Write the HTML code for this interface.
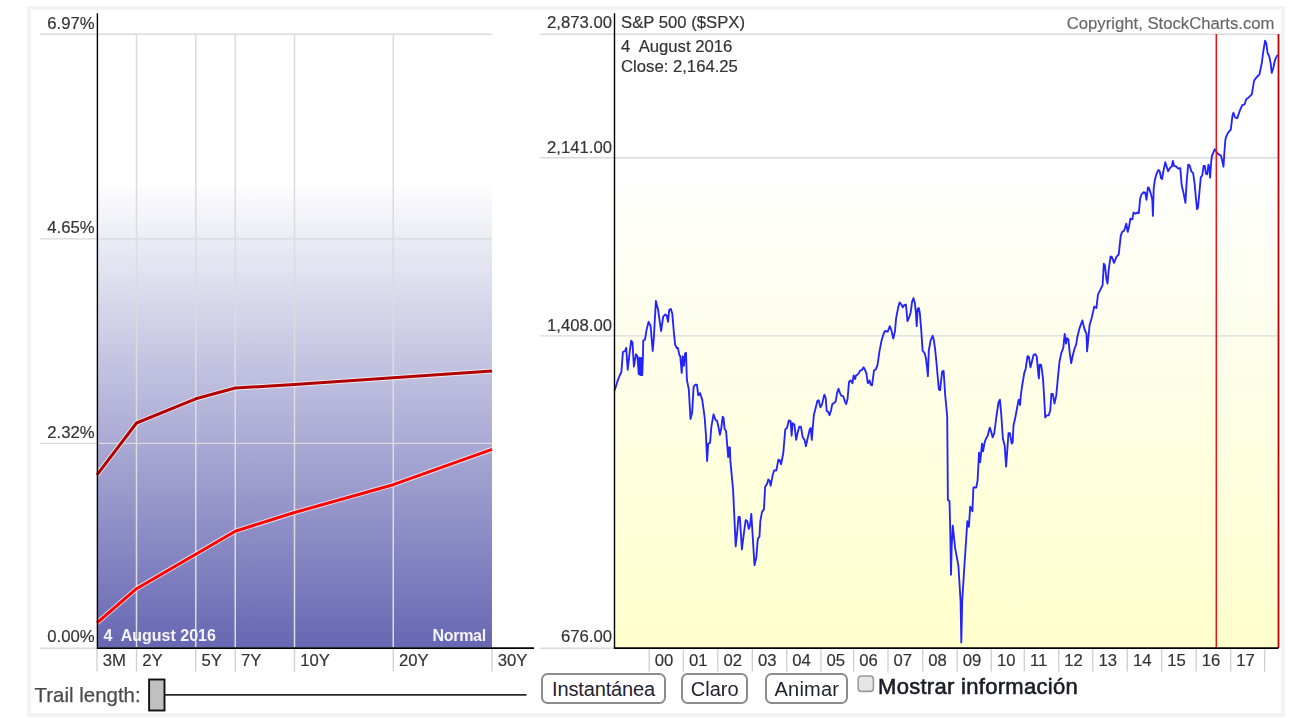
<!DOCTYPE html>
<html><head><meta charset="utf-8"><title>Yield Curve</title>
<style>
html,body{margin:0;padding:0;background:#fff;width:1306px;height:718px;overflow:hidden;}
svg{position:absolute;left:0;top:0;will-change:transform;}
text{font-family:"Liberation Sans", sans-serif;}
.t{fill:#333;stroke:#333;stroke-width:0.18px;}
.btn{position:absolute;box-sizing:border-box;border:2px solid #8c8c8c;border-radius:6.5px;background:#fff;
 font-family:"Liberation Sans", sans-serif;font-size:20px;color:#23232f;text-align:center;line-height:28px;height:31px;top:672.5px;white-space:nowrap;}
.lbl{position:absolute;font-family:"Liberation Sans", sans-serif;white-space:nowrap;}
</style></head><body>
<svg width="1306" height="718" viewBox="0 0 1306 718">
<defs>
<linearGradient id="gp" x1="0" y1="0" x2="0" y2="1">
 <stop offset="0" stop-color="#fdfdfe"/>
 <stop offset="1" stop-color="#6767b3"/>
</linearGradient>
<linearGradient id="gy" x1="0" y1="0" x2="0" y2="1">
 <stop offset="0" stop-color="#fefefc"/>
 <stop offset="1" stop-color="#ffffcc"/>
</linearGradient>
</defs>
<rect x="29" y="8" width="1254" height="707" fill="none" stroke="#f3f3f3" stroke-width="4"/>

<rect x="97" y="186" width="395" height="461.5" fill="url(#gp)"/>
<line x1="40" y1="34.2" x2="492" y2="34.2" stroke="#dadada" stroke-width="1.4"/>
<line x1="40" y1="238.9" x2="492" y2="238.9" stroke="#dadada" stroke-width="1.4"/>
<line x1="40" y1="443.4" x2="492" y2="443.4" stroke="#dadada" stroke-width="1.4"/>
<line x1="40" y1="648.2" x2="97" y2="648.2" stroke="#dadada" stroke-width="1.4"/>
<line x1="136.5" y1="34" x2="136.5" y2="647.5" stroke="#dcdcdc" stroke-width="1.5"/>
<line x1="195.75" y1="34" x2="195.75" y2="647.5" stroke="#dcdcdc" stroke-width="1.5"/>
<line x1="235.25" y1="34" x2="235.25" y2="647.5" stroke="#dcdcdc" stroke-width="1.5"/>
<line x1="294.5" y1="34" x2="294.5" y2="647.5" stroke="#dcdcdc" stroke-width="1.5"/>
<line x1="393.25" y1="34" x2="393.25" y2="647.5" stroke="#dcdcdc" stroke-width="1.5"/>
<line x1="97" y1="648.5" x2="97" y2="671.6" stroke="#cfcfcf" stroke-width="1.3"/>
<line x1="136.5" y1="648.5" x2="136.5" y2="671.6" stroke="#cfcfcf" stroke-width="1.3"/>
<line x1="195.75" y1="648.5" x2="195.75" y2="671.6" stroke="#cfcfcf" stroke-width="1.3"/>
<line x1="235.25" y1="648.5" x2="235.25" y2="671.6" stroke="#cfcfcf" stroke-width="1.3"/>
<line x1="294.5" y1="648.5" x2="294.5" y2="671.6" stroke="#cfcfcf" stroke-width="1.3"/>
<line x1="393.25" y1="648.5" x2="393.25" y2="671.6" stroke="#cfcfcf" stroke-width="1.3"/>
<line x1="492" y1="648.5" x2="492" y2="671.6" stroke="#cfcfcf" stroke-width="1.3"/>
<polyline points="97,474.8 136.5,423.0 195.75,398.8 235.25,388.0 294.5,384.5 393.25,377.8 492,371.0" fill="none" stroke="#ffffff" stroke-opacity="0.7" stroke-width="5" stroke-linejoin="round"/>
<polyline points="97,474.8 136.5,423.0 195.75,398.8 235.25,388.0 294.5,384.5 393.25,377.8 492,371.0" fill="none" stroke="#b20000" stroke-width="3" stroke-linejoin="round"/>
<polyline points="97,622.9 136.5,588.7 195.75,554.2 235.25,531.2 294.5,512.5 393.25,484.7 492,449.3" fill="none" stroke="#ffffff" stroke-opacity="0.7" stroke-width="5" stroke-linejoin="round"/>
<polyline points="97,622.9 136.5,588.7 195.75,554.2 235.25,531.2 294.5,512.5 393.25,484.7 492,449.3" fill="none" stroke="#ff0000" stroke-width="3" stroke-linejoin="round"/>
<line x1="97.4" y1="13.3" x2="97.4" y2="648.7" stroke="#000" stroke-width="1.4"/>
<line x1="97" y1="648.1" x2="534" y2="648.1" stroke="#000" stroke-width="1.7"/>
<text x="94.6" y="28.6" text-anchor="end" font-size="16.7" class="t">6.97%</text>
<text x="94.6" y="233.1" text-anchor="end" font-size="16.7" class="t">4.65%</text>
<text x="94.6" y="437.6" text-anchor="end" font-size="16.7" class="t">2.32%</text>
<text x="94.6" y="642.2" text-anchor="end" font-size="16.7" class="t">0.00%</text>
<text x="102.8" y="665.6" font-size="16.7" class="t">3M</text>
<text x="142.3" y="665.6" font-size="16.7" class="t">2Y</text>
<text x="201.55" y="665.6" font-size="16.7" class="t">5Y</text>
<text x="241.05" y="665.6" font-size="16.7" class="t">7Y</text>
<text x="300.3" y="665.6" font-size="16.7" class="t">10Y</text>
<text x="399.05" y="665.6" font-size="16.7" class="t">20Y</text>
<text x="497.8" y="665.6" font-size="16.7" class="t">30Y</text>
<text x="103.5" y="641" font-size="16" font-weight="bold" fill="#f4f4fa" xml:space="preserve">4  August 2016</text>
<text x="432.4" y="641" font-size="16" font-weight="bold" fill="#f4f4fa" textLength="53.8" lengthAdjust="spacing">Normal</text>
<rect x="614" y="186" width="664.5" height="461.5" fill="url(#gy)"/>
<line x1="540" y1="34.2" x2="1278.5" y2="34.2" stroke="#dadada" stroke-width="1.4"/>
<line x1="540" y1="157.7" x2="1278.5" y2="157.7" stroke="#dadada" stroke-width="1.4"/>
<line x1="540" y1="335.9" x2="1278.5" y2="335.9" stroke="#dadada" stroke-width="1.4"/>
<line x1="540" y1="648.2" x2="614" y2="648.2" stroke="#dadada" stroke-width="1.4"/>
<line x1="649.2" y1="648.5" x2="649.2" y2="671.6" stroke="#cfcfcf" stroke-width="1.3"/>
<text x="654.80" y="665.6" font-size="16.7" class="t">00</text>
<line x1="683.3" y1="648.5" x2="683.3" y2="671.6" stroke="#cfcfcf" stroke-width="1.3"/>
<text x="688.90" y="665.6" font-size="16.7" class="t">01</text>
<line x1="717.8" y1="648.5" x2="717.8" y2="671.6" stroke="#cfcfcf" stroke-width="1.3"/>
<text x="723.40" y="665.6" font-size="16.7" class="t">02</text>
<line x1="752.3" y1="648.5" x2="752.3" y2="671.6" stroke="#cfcfcf" stroke-width="1.3"/>
<text x="757.90" y="665.6" font-size="16.7" class="t">03</text>
<line x1="786.7" y1="648.5" x2="786.7" y2="671.6" stroke="#cfcfcf" stroke-width="1.3"/>
<text x="792.30" y="665.6" font-size="16.7" class="t">04</text>
<line x1="820.9" y1="648.5" x2="820.9" y2="671.6" stroke="#cfcfcf" stroke-width="1.3"/>
<text x="826.50" y="665.6" font-size="16.7" class="t">05</text>
<line x1="853.6" y1="648.5" x2="853.6" y2="671.6" stroke="#cfcfcf" stroke-width="1.3"/>
<text x="859.20" y="665.6" font-size="16.7" class="t">06</text>
<line x1="888.0" y1="648.5" x2="888.0" y2="671.6" stroke="#cfcfcf" stroke-width="1.3"/>
<text x="893.60" y="665.6" font-size="16.7" class="t">07</text>
<line x1="922.7" y1="648.5" x2="922.7" y2="671.6" stroke="#cfcfcf" stroke-width="1.3"/>
<text x="928.30" y="665.6" font-size="16.7" class="t">08</text>
<line x1="957.2" y1="648.5" x2="957.2" y2="671.6" stroke="#cfcfcf" stroke-width="1.3"/>
<text x="962.80" y="665.6" font-size="16.7" class="t">09</text>
<line x1="991.3" y1="648.5" x2="991.3" y2="671.6" stroke="#cfcfcf" stroke-width="1.3"/>
<text x="996.90" y="665.6" font-size="16.7" class="t">10</text>
<line x1="1024.3" y1="648.5" x2="1024.3" y2="671.6" stroke="#cfcfcf" stroke-width="1.3"/>
<text x="1029.90" y="665.6" font-size="16.7" class="t">11</text>
<line x1="1058.7" y1="648.5" x2="1058.7" y2="671.6" stroke="#cfcfcf" stroke-width="1.3"/>
<text x="1064.30" y="665.6" font-size="16.7" class="t">12</text>
<line x1="1092.8" y1="648.5" x2="1092.8" y2="671.6" stroke="#cfcfcf" stroke-width="1.3"/>
<text x="1098.40" y="665.6" font-size="16.7" class="t">13</text>
<line x1="1127.3" y1="648.5" x2="1127.3" y2="671.6" stroke="#cfcfcf" stroke-width="1.3"/>
<text x="1132.90" y="665.6" font-size="16.7" class="t">14</text>
<line x1="1161.7" y1="648.5" x2="1161.7" y2="671.6" stroke="#cfcfcf" stroke-width="1.3"/>
<text x="1167.30" y="665.6" font-size="16.7" class="t">15</text>
<line x1="1196.2" y1="648.5" x2="1196.2" y2="671.6" stroke="#cfcfcf" stroke-width="1.3"/>
<text x="1201.80" y="665.6" font-size="16.7" class="t">16</text>
<line x1="1230.7" y1="648.5" x2="1230.7" y2="671.6" stroke="#cfcfcf" stroke-width="1.3"/>
<text x="1236.30" y="665.6" font-size="16.7" class="t">17</text>
<line x1="1264.6" y1="648.5" x2="1264.6" y2="671.6" stroke="#cfcfcf" stroke-width="1.3"/>
<text x="612" y="28.3" text-anchor="end" font-size="16.7" class="t">2,873.00</text>
<text x="612" y="153.2" text-anchor="end" font-size="16.7" class="t">2,141.00</text>
<text x="612" y="331.4" text-anchor="end" font-size="16.7" class="t">1,408.00</text>
<text x="612" y="642.4" text-anchor="end" font-size="16.7" class="t">676.00</text>
<text x="621" y="28.4" font-size="16.7" class="t">S&amp;P 500 ($SPX)</text>
<text x="621" y="51.5" font-size="16.7" class="t" xml:space="preserve">4  August 2016</text>
<text x="621" y="72" font-size="16.7" class="t">Close: 2,164.25</text>
<text x="1274.5" y="28.5" font-size="16.7" fill="#666" stroke="#666" stroke-width="0.15" text-anchor="end">Copyright, StockCharts.com</text>
<path d="M614.5,390.7 L616.2,385.5 L617.8,380.3 L619.9,375.0 L621.4,371.9 L622.9,352.0 L625.0,351.0 L626.2,347.9 L627.7,369.8 L629.8,351.0 L631.2,340.6 L632.5,342.7 L633.9,366.7 L636.0,354.2 L637.5,356.2 L638.7,374.0 L639.3,358.0 L640.2,375.0 L640.8,358.0 L641.2,375.0 L641.8,358.0 L642.3,375.0 L642.9,357.3 L643.3,340.6 L645.0,339.5 L646.5,330.1 L648.6,321.8 L650.6,326.0 L652.7,351.0 L653.8,338.5 L655.9,300.9 L658.0,309.2 L661.1,331.2 L663.2,316.6 L665.3,314.5 L666.7,315.5 L668.0,321.8 L669.2,310.1 L670.8,308.9 L672.3,313.7 L673.9,332.6 L675.1,344.5 L676.8,348.0 L677.9,348.0 L679.4,355.1 L680.3,356.3 L681.7,372.9 L682.7,356.3 L683.9,365.8 L685.0,353.4 L686.0,352.7 L686.9,380.0 L688.8,389.4 L690.5,419.0 L692.1,413.1 L693.6,387.1 L695.2,384.7 L696.9,384.7 L698.3,395.4 L700.0,393.0 L702.3,400.1 L704.7,417.8 L705.9,434.4 L707.1,461.0 L708.2,443.9 L710.1,442.7 L711.3,427.3 L713.5,414.3 L715.7,420.2 L717.1,420.9 L718.5,427.2 L719.9,434.8 L721.3,427.9 L722.7,416.7 L723.6,418.1 L724.5,428.6 L726.1,431.3 L727.3,446.0 L728.2,457.1 L728.9,447.4 L729.9,447.4 L730.3,459.9 L731.7,475.2 L733.1,490.0 L735.7,546.4 L736.9,535.1 L738.5,517.0 L739.8,517.0 L741.9,549.5 L743.8,533.9 L745.7,520.1 L747.3,521.3 L748.8,528.9 L750.1,525.1 L751.3,513.8 L752.8,537.6 L754.5,565.2 L756.3,557.7 L757.8,538.9 L759.5,536.4 L760.3,521.3 L762.0,511.9 L763.9,509.4 L765.1,487.0 L767.2,483.6 L768.3,479.4 L769.6,480.8 L770.7,485.7 L772.8,474.7 L774.2,470.3 L776.3,470.5 L778.4,459.7 L779.7,460.1 L781.1,464.3 L783.2,453.8 L785.3,429.4 L787.0,428.0 L788.8,420.4 L790.6,421.1 L791.6,435.7 L792.6,423.2 L794.4,424.6 L796.2,439.9 L797.6,432.9 L799.2,426.7 L800.9,426.7 L802.7,437.1 L804.5,439.9 L805.9,446.2 L807.6,438.5 L809.7,429.4 L810.7,428.0 L811.8,439.9 L812.9,426.0 L813.9,414.8 L815.3,409.2 L817.4,400.9 L818.7,400.2 L820.4,407.2 L821.8,405.1 L824.3,394.6 L825.7,398.1 L826.7,411.0 L828.1,411.7 L829.5,415.2 L830.9,411.0 L832.3,404.1 L834.4,402.7 L835.7,401.3 L837.1,392.9 L838.5,388.7 L839.9,392.9 L841.3,395.7 L843.4,396.4 L844.8,401.3 L846.2,404.1 L847.6,398.5 L849.0,381.8 L850.4,380.4 L852.5,383.2 L853.6,375.5 L855.2,379.0 L855.9,375.5 L857.3,374.8 L858.7,373.4 L860.1,370.6 L861.9,369.9 L863.6,367.2 L865.0,369.9 L866.4,373.4 L867.8,383.2 L869.5,380.4 L870.6,384.6 L872.0,385.3 L874.0,370.6 L875.9,369.2 L877.5,365.1 L879.4,351.9 L881.5,340.7 L883.6,333.7 L885.0,331.0 L887.7,331.7 L889.8,326.1 L891.2,329.6 L893.3,338.6 L895.0,331.0 L896.1,318.4 L898.2,307.3 L899.6,302.4 L901.4,304.5 L902.8,307.3 L904.2,305.2 L905.9,304.5 L907.5,321.2 L909.3,317.0 L910.7,312.2 L912.1,301.7 L913.5,298.2 L914.9,303.1 L915.9,312.9 L916.7,326.1 L917.7,308.7 L918.8,308.0 L919.8,312.9 L921.2,329.6 L922.6,350.5 L924.7,353.2 L926.0,358.8 L927.0,367.2 L927.9,376.2 L928.8,350.5 L930.6,340.7 L932.6,335.8 L933.7,339.3 L935.1,349.1 L936.5,363.0 L938.8,389.2 L940.1,390.2 L942.1,371.7 L943.6,370.7 L945.2,395.1 L947.2,416.5 L947.9,500.0 L949.5,501.1 L950.2,527.9 L951.0,574.7 L951.7,545.7 L952.8,525.7 L955.1,547.9 L958.4,565.8 L960.6,601.4 L961.3,642.6 L962.2,601.4 L964.4,565.8 L966.2,539.0 L967.3,521.2 L968.9,526.8 L970.2,506.7 L972.4,511.2 L973.4,487.5 L976.2,487.5 L977.6,480.5 L979.0,452.7 L980.1,462.4 L981.1,453.4 L982.0,443.6 L983.1,451.3 L984.5,442.9 L985.9,438.7 L987.6,436.0 L989.8,427.6 L991.2,431.8 L992.6,437.4 L994.3,433.2 L996.4,416.5 L998.5,402.5 L999.9,399.7 L1001.2,413.7 L1002.9,438.7 L1004.7,445.7 L1006.1,466.6 L1007.1,452.7 L1008.5,433.2 L1009.9,433.2 L1011.7,443.6 L1012.7,442.2 L1013.5,425.5 L1015.5,416.5 L1017.3,406.7 L1018.7,399.7 L1020.1,405.0 L1020.8,395.2 L1022.2,385.5 L1024.3,372.9 L1025.7,368.7 L1027.5,356.2 L1028.9,356.9 L1030.5,367.4 L1031.9,361.8 L1033.6,354.8 L1035.4,354.1 L1036.8,356.9 L1038.2,372.9 L1038.9,378.5 L1039.6,364.6 L1041.0,364.6 L1042.0,370.1 L1043.1,379.9 L1044.2,398.0 L1045.2,417.5 L1046.6,415.4 L1048.6,415.4 L1050.3,410.5 L1051.4,393.8 L1052.8,393.8 L1054.5,403.6 L1056.3,395.2 L1058.1,375.7 L1059.5,361.8 L1061.2,353.4 L1063.3,347.9 L1064.7,333.9 L1066.0,343.7 L1067.0,338.1 L1068.4,339.5 L1069.8,353.4 L1071.2,363.2 L1072.6,356.2 L1074.4,349.2 L1076.2,344.4 L1077.3,337.2 L1079.6,328.1 L1082.4,320.4 L1084.2,328.1 L1086.5,334.2 L1087.1,351.4 L1089.6,325.0 L1091.9,317.3 L1094.2,306.6 L1096.4,308.1 L1098.0,294.3 L1100.3,289.8 L1102.6,285.2 L1103.8,263.7 L1104.9,265.2 L1106.4,279.0 L1107.5,283.6 L1108.7,269.8 L1110.5,256.8 L1111.8,256.8 L1114.1,262.9 L1116.4,256.8 L1118.7,254.5 L1119.7,245.3 L1120.7,236.1 L1122.1,231.9 L1124.2,230.5 L1126.3,223.6 L1127.7,231.9 L1129.1,226.4 L1130.4,218.7 L1132.3,219.4 L1133.6,212.4 L1135.6,213.8 L1137.4,212.4 L1138.8,213.1 L1140.2,198.5 L1141.6,194.3 L1143.7,192.2 L1145.3,192.9 L1146.5,199.9 L1147.9,187.4 L1149.0,188.1 L1150.6,192.9 L1152.3,199.9 L1152.9,215.9 L1153.7,188.7 L1154.8,180.4 L1156.2,174.8 L1158.3,169.9 L1159.7,171.3 L1161.1,178.3 L1162.1,179.0 L1163.2,172.0 L1165.3,162.3 L1166.4,165.8 L1168.1,171.3 L1169.9,167.9 L1171.8,166.5 L1172.9,160.9 L1174.0,165.8 L1176.4,166.7 L1178.1,168.7 L1180.3,168.1 L1181.7,185.5 L1183.4,192.4 L1185.4,202.9 L1186.8,179.9 L1188.2,164.6 L1189.6,165.3 L1191.4,171.5 L1193.1,172.9 L1194.5,182.7 L1195.9,198.0 L1197.0,209.1 L1198.0,207.7 L1199.4,192.4 L1200.8,177.1 L1202.2,175.7 L1203.6,166.0 L1204.9,166.0 L1205.9,173.6 L1207.3,174.3 L1208.4,164.6 L1209.5,167.4 L1210.1,177.8 L1211.2,161.8 L1211.9,156.2 L1213.3,152.7 L1214.7,149.2 L1216.1,151.3 L1217.5,153.4 L1219.3,154.8 L1221.0,155.5 L1222.4,161.8 L1223.5,166.7 L1224.4,152.0 L1225.4,139.5 L1226.8,135.3 L1228.1,132.7 L1230.8,129.6 L1232.4,115.8 L1233.4,112.7 L1235.0,117.3 L1237.3,118.1 L1239.6,111.2 L1242.2,105.1 L1244.6,104.3 L1246.4,98.9 L1248.7,97.4 L1251.8,94.3 L1254.1,80.6 L1256.4,77.5 L1259.5,74.4 L1261.8,62.9 L1263.3,51.4 L1265.1,40.7 L1266.4,43.8 L1267.6,53.0 L1269.4,56.8 L1270.7,63.7 L1271.7,72.9 L1273.3,68.3 L1274.8,60.6 L1276.8,56.0 L1277.9,55.3" fill="none" stroke="#2323ff" stroke-width="1.85" stroke-linejoin="round"/>
<line x1="1216.3" y1="34" x2="1216.3" y2="648" stroke="#f01010" stroke-width="1.5"/>
<line x1="1278.5" y1="34" x2="1278.5" y2="648" stroke="#c00000" stroke-width="1.8"/>
<line x1="614.5" y1="13.3" x2="614.5" y2="648.7" stroke="#000" stroke-width="1.4"/>
<line x1="614" y1="648.1" x2="1278.5" y2="648.1" stroke="#000" stroke-width="1.7"/>
<text x="34.6" y="702" font-size="21" fill="#4a4a4a" stroke="#4a4a4a" stroke-width="0.25" textLength="106" lengthAdjust="spacingAndGlyphs">Trail length:</text>
<line x1="165" y1="694.9" x2="526.5" y2="694.9" stroke="#2a2a2a" stroke-width="1.9"/>
<rect x="149.1" y="679.5" width="15.4" height="31" fill="#c0c0c0" stroke="#111" stroke-width="1.9"/>
<rect x="858.2" y="676" width="15.2" height="15.4" rx="3.2" fill="#e6e6e6" stroke="#9a9a9a" stroke-width="1.6"/>
</svg>
<div class="btn" style="left:541px;width:125px;letter-spacing:-0.15px;">Instantánea</div>
<div class="btn" style="left:681.2px;width:67px;">Claro</div>
<div class="btn" style="left:765.3px;width:83px;letter-spacing:0.2px;">Animar</div>
<div class="lbl" style="left:878px;top:673px;font-size:22px;line-height:28px;color:#1c1c28;-webkit-text-stroke:0.6px #1c1c28;letter-spacing:0.3px;">Mostrar información</div>
</body></html>
